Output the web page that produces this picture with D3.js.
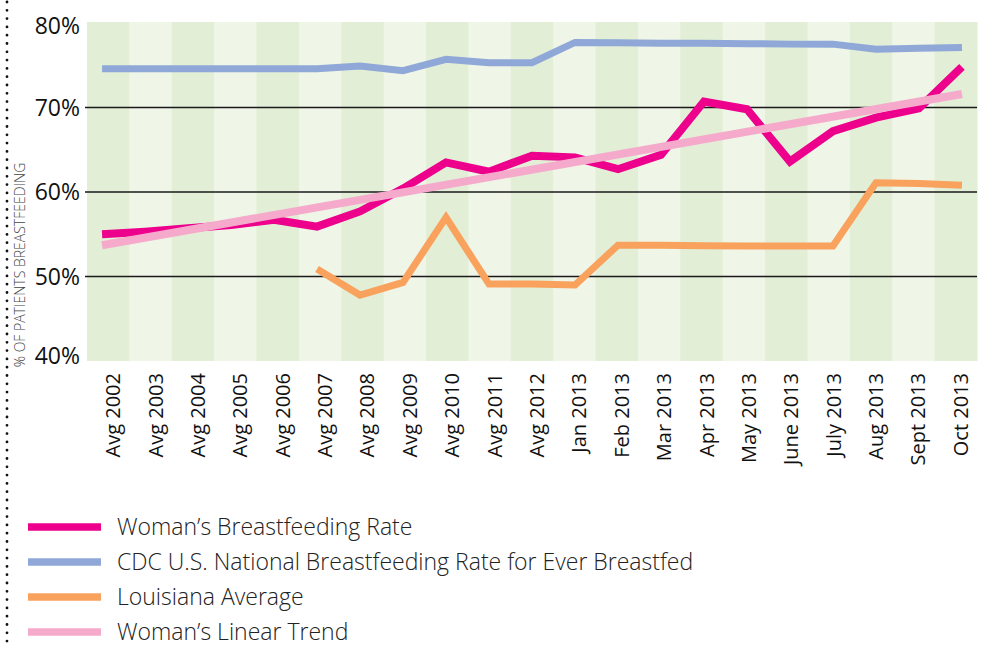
<!DOCTYPE html>
<html>
<head>
<meta charset="utf-8">
<script src="https://cdn.jsdelivr.net/npm/d3@7"></script>
<style>
  html, body { margin: 0; padding: 0; background: #fff; }
  svg { display: block; font-family: "Open Sans", sans-serif; }
</style>
</head>
<body>
<svg id="chart" width="983" height="647"></svg>
<script>
const categories = ["Avg 2002","Avg 2003","Avg 2004","Avg 2005","Avg 2006","Avg 2007","Avg 2008","Avg 2009","Avg 2010","Avg 2011","Avg 2012","Jan 2013","Feb 2013","Mar 2013","Apr 2013","May 2013","June 2013","July 2013","Aug 2013","Sept 2013","Oct 2013"];
const womansRate = [55.0,55.3,55.7,56.1,56.7,55.9,57.7,60.4,63.5,62.4,64.3,64.1,62.7,64.4,70.7,69.8,63.6,67.2,68.8,69.9,74.8];
const cdcRate = [74.6,74.6,74.6,74.6,74.6,74.6,74.9,74.35,75.7,75.3,75.3,77.7,77.65,77.6,77.6,77.55,77.5,77.5,76.9,77.0,77.1];
const louisianaAvg = [null,null,null,null,null,50.9,47.8,49.3,57.0,49.1,49.1,49.0,53.7,53.7,53.65,53.6,53.6,53.6,61.1,61.0,60.8];
const trendCats = ["Avg 2002","Oct 2013"];
const trendVals = [53.7,71.6];
const yTicks = [40,50,60,70,80];
const gridTicks = [50,60,70];
const legendLabels = ["Woman’s Breastfeeding Rate","CDC U.S. National Breastfeeding Rate for Ever Breastfed","Louisiana Average","Woman’s Linear Trend"];
const colors = ["#EC008C","#8FA8D8","#F9A25E","#F5AACC"];

const svg = d3.select("#chart");
const L = 87, R = 977, T = 22, B = 361;

const xBand = d3.scaleBand().domain(categories).range([L, R]);
const xPt = d3.scalePoint().domain(categories).range([L, R]).padding(0.35);
const y = d3.scaleLinear().domain([40, 80]).range([B, T + 1]);

// left dotted border
svg.append("line").attr("x1", 7).attr("x2", 7).attr("y1", 2).attr("y2", 647)
  .attr("stroke", "#111").attr("stroke-width", 2.8).attr("stroke-linecap", "round")
  .attr("stroke-dasharray", "0 8.3");

// stripes
svg.append("g").selectAll("rect").data(categories).join("rect")
  .attr("x", d => xBand(d)).attr("y", T).attr("width", xBand.bandwidth() + 0.5).attr("height", B - T)
  .attr("fill", (d, i) => i % 2 === 0 ? "#E2EED6" : "#EFF5E7");

// gridlines
svg.append("g").selectAll("line").data(gridTicks).join("line")
  .attr("x1", 85).attr("x2", R).attr("y1", d => y(d)).attr("y2", d => y(d))
  .attr("stroke", "#1a1a1a").attr("stroke-width", 1.5);

// y labels
svg.append("g").selectAll("text").data(yTicks).join("text")
  .attr("x", 80).attr("y", d => y(d) + (d === 80 ? 3 : d === 40 ? -5 : 0))
  .attr("dy", "0.35em").attr("text-anchor", "end")
  .attr("font-size", 23).attr("fill", "#111").text(d => d + "%");

// y title
svg.append("text").attr("transform", "translate(25,265) rotate(-90)")
  .attr("text-anchor", "middle").attr("font-size", 14).attr("font-weight", 300)
  .attr("fill", "#444").text("% OF PATIENTS BREASTFEEDING");

// x labels
svg.append("g").selectAll("text").data(categories).join("text")
  .attr("transform", d => `translate(${xBand(d) + xBand.bandwidth() / 2 + 5},373) rotate(-90)`)
  .attr("text-anchor", "end").attr("dy", "0.35em")
  .attr("font-size", 20).attr("fill", "#111").text(d => d);

const line = d3.line().defined(d => d[1] != null).x(d => xPt(d[0])).y(d => y(d[1]));
const series = [
  { vals: cdcRate.map((v, i) => [categories[i], v]), color: colors[1], w: 7 },
  { vals: louisianaAvg.map((v, i) => [categories[i], v]), color: colors[2], w: 7 },
  { vals: womansRate.map((v, i) => [categories[i], v]), color: colors[0], w: 8 },
  { vals: trendCats.map((c, i) => [c, trendVals[i]]), color: colors[3], w: 8 }
];
svg.append("g").selectAll("path").data(series).join("path")
  .attr("d", d => line(d.vals)).attr("fill", "none")
  .attr("stroke", d => d.color).attr("stroke-width", d => d.w);

// legend
const lg = svg.append("g").selectAll("g").data(legendLabels).join("g")
  .attr("transform", (d, i) => `translate(0,${527 + i * 35})`);
lg.append("line").attr("x1", 28).attr("x2", 101).attr("y1", 0).attr("y2", 0)
  .attr("stroke", (d, i) => colors[i]).attr("stroke-width", 7.5);
lg.append("text").attr("x", 117).attr("y", 0).attr("dy", "0.35em")
  .attr("font-size", 23).attr("font-weight", 300).attr("fill", "#222").text(d => d);
</script>
</body>
</html>
